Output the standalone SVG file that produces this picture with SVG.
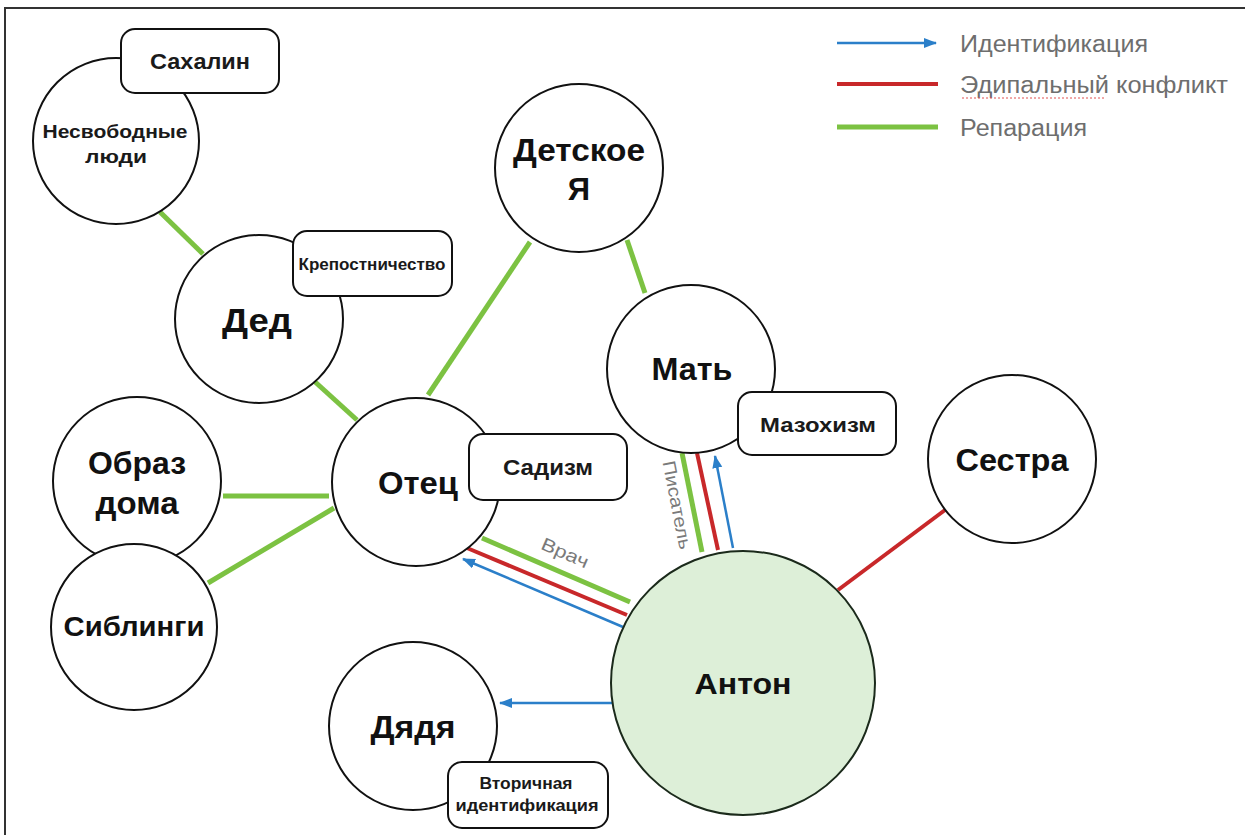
<svg xmlns="http://www.w3.org/2000/svg" width="1245" height="835" viewBox="0 0 1245 835">
<defs>
<marker id="ab" markerUnits="userSpaceOnUse" markerWidth="14" markerHeight="12" refX="12" refY="5" orient="auto">
<path d="M0,0 L13,5 L0,10 z" fill="#2b7fc9"/>
</marker>
<style>
.c{fill:#fff;stroke:#111;stroke-width:2}
.b{fill:#fff;stroke:#111;stroke-width:2}
.t{font-family:"Liberation Sans",Arial,sans-serif;font-weight:bold;fill:#111;text-anchor:middle;dominant-baseline:central}
.s{font-family:"Liberation Sans",Arial,sans-serif;font-weight:bold;fill:#1a1a1a;text-anchor:middle;dominant-baseline:central}
.g{stroke:#7cc242;stroke-width:5;fill:none}
.r{stroke:#c8282a;stroke-width:4;fill:none}
.bl{stroke:#2b7fc9;stroke-width:2.5;fill:none}
.lg{font-family:"Liberation Sans",Arial,sans-serif;fill:#6e6e6e;font-size:23px;dominant-baseline:central}
.lb{font-family:"Liberation Sans",Arial,sans-serif;fill:#7a7a7a;font-size:18px;text-anchor:middle;dominant-baseline:central}
</style>
</defs>
<rect x="0" y="0" width="1245" height="835" fill="#fff"/>
<rect x="5" y="8" width="1250" height="840" fill="none" stroke="#333" stroke-width="2"/>

<g id="legend">
<line x1="837" y1="43" x2="936" y2="43" class="bl" marker-end="url(#ab)"/>
<text x="960" y="44" class="lg" textLength="188" lengthAdjust="spacingAndGlyphs">Идентификация</text>
<line x1="837" y1="84" x2="938" y2="84" class="r"/>
<text x="960" y="85" class="lg" textLength="268" lengthAdjust="spacingAndGlyphs">Эдипальный конфликт</text>
<line x1="962" y1="98" x2="1105" y2="98" stroke="#e05050" stroke-width="1" stroke-dasharray="2 2"/>
<line x1="837" y1="127" x2="938" y2="127" class="g"/>
<text x="960" y="128" class="lg" textLength="127" lengthAdjust="spacingAndGlyphs">Репарация</text>
</g>

<g id="connectors">
<line x1="160" y1="212" x2="203" y2="254" class="g"/>
<line x1="313" y1="380" x2="357" y2="420" class="g"/>
<line x1="530" y1="242" x2="428" y2="395" class="g"/>
<line x1="627" y1="240" x2="645" y2="293" class="g"/>
<line x1="223" y1="496" x2="329" y2="496" class="g"/>
<line x1="208" y1="583" x2="334" y2="508" class="g"/>
<line x1="482" y1="538" x2="630" y2="602" class="g"/>
<line x1="467" y1="548" x2="627" y2="615" class="r"/>
<line x1="623" y1="627" x2="463" y2="559" class="bl" marker-end="url(#ab)"/>
<line x1="682" y1="453" x2="702" y2="552" class="g"/>
<line x1="697" y1="453" x2="718" y2="550" class="r"/>
<line x1="733" y1="548" x2="715" y2="456" class="bl" marker-end="url(#ab)"/>
<line x1="945" y1="510" x2="838" y2="590" class="r"/>
<line x1="612" y1="703" x2="500" y2="703" class="bl" marker-end="url(#ab)"/>
<text x="565" y="553" class="lb" transform="rotate(23.4 565 553)" textLength="50" lengthAdjust="spacingAndGlyphs">Врач</text>
<text x="677" y="505" class="lb" transform="rotate(79 677 505)" textLength="90" lengthAdjust="spacingAndGlyphs">Писатель</text>
</g>

<g id="n-nesvobodnye">
<circle cx="116" cy="141" r="83" class="c"/>
<text x="115" y="132" class="s" font-size="18" textLength="145" lengthAdjust="spacingAndGlyphs">Несвободные</text>
<text x="116" y="157" class="s" font-size="18" textLength="62" lengthAdjust="spacingAndGlyphs">люди</text>
</g>
<g id="n-sakhalin">
<rect x="121" y="29" width="158" height="64" rx="14" class="b"/>
<text x="200" y="61" class="s" font-size="22" textLength="100" lengthAdjust="spacingAndGlyphs">Сахалин</text>
</g>

<g id="n-ded">
<circle cx="259" cy="319" r="84" class="c"/>
<text x="257" y="320" class="t" font-size="34" textLength="70" lengthAdjust="spacingAndGlyphs">Дед</text>
</g>
<g id="n-krepost">
<rect x="293" y="231" width="159" height="65" rx="14" class="b"/>
<text x="372" y="264" class="s" font-size="16" textLength="147" lengthAdjust="spacingAndGlyphs">Крепостничество</text>
</g>

<g id="n-detskoe">
<circle cx="579" cy="168" r="84" class="c"/>
<text x="579" y="150" class="t" font-size="31" textLength="132" lengthAdjust="spacingAndGlyphs">Детское</text>
<text x="579" y="189" class="t" font-size="31">Я</text>
</g>

<g id="n-mat">
<circle cx="691" cy="369" r="84" class="c"/>
<text x="692" y="369" class="t" font-size="31" textLength="81" lengthAdjust="spacingAndGlyphs">Мать</text>
</g>
<g id="n-mazokhizm">
<rect x="738" y="392" width="158" height="63" rx="14" class="b"/>
<text x="818" y="424" class="s" font-size="21" textLength="116" lengthAdjust="spacingAndGlyphs">Мазохизм</text>
</g>

<g id="n-obraz">
<circle cx="137" cy="481" r="84" class="c"/>
<text x="137" y="463" class="t" font-size="31" textLength="98" lengthAdjust="spacingAndGlyphs">Образ</text>
<text x="137" y="503" class="t" font-size="31" textLength="83" lengthAdjust="spacingAndGlyphs">дома</text>
</g>
<g id="n-siblingi">
<circle cx="134" cy="627" r="83" class="c"/>
<text x="134" y="627" class="t" font-size="27" textLength="141" lengthAdjust="spacingAndGlyphs">Сиблинги</text>
</g>

<g id="n-otec">
<circle cx="416" cy="482" r="84" class="c"/>
<text x="418" y="483" class="t" font-size="31" textLength="80" lengthAdjust="spacingAndGlyphs">Отец</text>
</g>
<g id="n-sadizm">
<rect x="469" y="434" width="158" height="66" rx="14" class="b"/>
<text x="548" y="467" class="s" font-size="22" textLength="90" lengthAdjust="spacingAndGlyphs">Садизм</text>
</g>

<g id="n-sestra">
<circle cx="1012" cy="459" r="84" class="c"/>
<text x="1012" y="460" class="t" font-size="31" textLength="113" lengthAdjust="spacingAndGlyphs">Сестра</text>
</g>

<g id="n-anton">
<circle cx="743" cy="683" r="132" fill="#ddefd8" stroke="#1b2a1b" stroke-width="2"/>
<text x="743" y="683" class="t" font-size="30" textLength="97" lengthAdjust="spacingAndGlyphs">Антон</text>
</g>

<g id="n-dyadya">
<circle cx="413" cy="726" r="84" class="c"/>
<text x="413" y="727" class="t" font-size="31" textLength="85" lengthAdjust="spacingAndGlyphs">Дядя</text>
</g>
<g id="n-vtorichnaya">
<rect x="448" y="762" width="160" height="66" rx="14" class="b"/>
<text x="526" y="783" class="s" font-size="16" textLength="93" lengthAdjust="spacingAndGlyphs">Вторичная</text>
<text x="527" y="805" class="s" font-size="16" textLength="143" lengthAdjust="spacingAndGlyphs">идентификация</text>
</g>
</svg>
